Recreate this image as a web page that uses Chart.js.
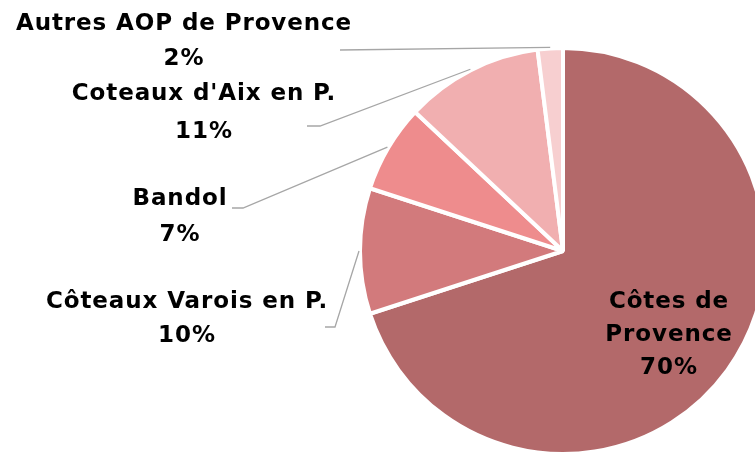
<!DOCTYPE html>
<html>
<head>
<meta charset="utf-8">
<script src="https://cdn.jsdelivr.net/npm/chart.js@4/dist/chart.umd.min.js"></script>
<style>
  html, body { margin: 0; padding: 0; background: #fff; overflow: hidden; }
  #wrap { width: 755px; height: 453px; overflow: hidden; position: relative; }
  canvas { position: absolute; left: 0; top: 0; }
</style>
</head>
<body>
<div id="wrap"><canvas id="pie" width="800" height="460"></canvas></div>
<script>
const CATEGORIES = ['Côtes de Provence', 'Côteaux Varois en P.', 'Bandol', "Coteaux d'Aix en P.", 'Autres AOP de Provence'];
const SHARES = [70, 10, 7, 11, 2];
const COLORS = ['#b3696a', '#d27a7c', '#ee8c8d', '#f1afb0', '#f7cfd0'];

// label layout: text block centre (x, y of first line), line step, elbow of leader line
const LABEL_LAYOUT = [
  { inside: true, x: 669, y: 302, lh: 33, lines: ['Côtes de', 'Provence'] },
  { x: 187, y: 302, lh: 34, elbow: [[325, 327], [335, 327]] },
  { x: 180, y: 199, lh: 36, elbow: [[232, 208], [243, 208]] },
  { x: 204, y: 94, lh: 38.5, elbow: [[307, 126], [320, 126]] },
  { x: 184, y: 24, lh: 35.5, elbow: [[340, 50]] }
];

const FONT = 'bold 23px "DejaVu Sans", sans-serif';

const labelPlugin = {
  id: 'pieLabels',
  afterDraw(chart) {
    const ctx = chart.ctx;
    const meta = chart.getDatasetMeta(0);
    ctx.save();
    meta.data.forEach((arc, i) => {
      const lay = LABEL_LAYOUT[i];
      const pct = SHARES[i] + '%';
      if (!lay.inside) {
        const mid = (arc.startAngle + arc.endAngle) / 2;
        const ex = arc.x + Math.cos(mid) * (arc.outerRadius + 1);
        const ey = arc.y + Math.sin(mid) * (arc.outerRadius + 1);
        ctx.strokeStyle = '#a6a6a6';
        ctx.lineWidth = 1.3;
        ctx.beginPath();
        lay.elbow.forEach((p, k) => k ? ctx.lineTo(p[0], p[1]) : ctx.moveTo(p[0], p[1]));
        ctx.lineTo(ex, ey);
        ctx.stroke();
      }
      const lines = (lay.lines || [CATEGORIES[i]]).concat([pct]);
      ctx.fillStyle = '#000';
      ctx.font = FONT;
      ctx.letterSpacing = '0.9px';
      ctx.textAlign = 'center';
      ctx.textBaseline = 'middle';
      lines.forEach((t, k) => ctx.fillText(t, lay.x, lay.y + k * lay.lh));
    });
    ctx.restore();
  }
};

new Chart(document.getElementById('pie'), {
  type: 'pie',
  data: {
    labels: CATEGORIES,
    datasets: [{
      data: SHARES,
      backgroundColor: COLORS,
      borderColor: '#ffffff',
      borderWidth: 4
    }]
  },
  options: {
    responsive: false,
    animation: false,
    rotation: 0,
    layout: { padding: { left: 358, right: 32, top: 46, bottom: 4 } },
    plugins: { legend: { display: false }, tooltip: { enabled: false } }
  },
  plugins: [labelPlugin]
});
</script>
</body>
</html>
